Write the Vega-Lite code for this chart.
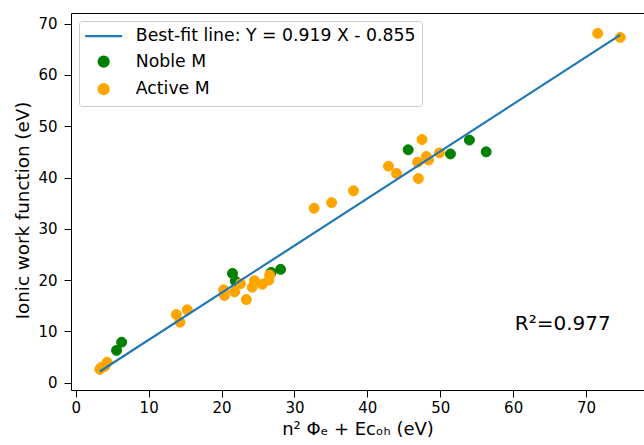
{
  "$schema": "https://vega.github.io/schema/vega-lite/v6.json",
  "width": 573,
  "height": 377,
  "autosize": {"type": "none"},
  "padding": {"left": 71, "top": 13, "right": 0, "bottom": 55},
  "background": "white",
  "config": {
    "view": {"stroke": null},
    "font": "DejaVu Sans",
    "axis": {
      "labelFont": "DejaVu Sans", "labelFontSize": 15, "labelColor": "black",
      "titleFont": "DejaVu Sans", "titleFontSize": 18, "titleFontWeight": "normal", "titleColor": "black",
      "domainColor": "black", "domainWidth": 1, "tickColor": "black", "tickSize": 7, "tickWidth": 1, "grid": false
    },
    "legend": {
      "title": null, "orient": "top-left", "offset": 8, "labelLimit": 500,
      "labelFont": "DejaVu Sans", "labelFontSize": 17.3, "labelColor": "black",
      "symbolSize": 100, "symbolOffset": 9.5, "labelOffset": 23.5, "rowPadding": 7.5,
      "padding": 6.5, "fillColor": "rgba(255,255,255,0.8)", "strokeColor": "#cccccc", "cornerRadius": 3,
      "symbolStrokeWidth": 2.2
    }
  },
  "datasets": {
    "pts": [
      {"x": 5.6, "y": 6.3, "series": "Noble M"},
      {"x": 6.3, "y": 7.9, "series": "Noble M"},
      {"x": 21.5, "y": 21.3, "series": "Noble M"},
      {"x": 21.9, "y": 19.8, "series": "Noble M"},
      {"x": 26.8, "y": 21.5, "series": "Noble M"},
      {"x": 28.1, "y": 22.1, "series": "Noble M"},
      {"x": 45.6, "y": 45.4, "series": "Noble M"},
      {"x": 51.4, "y": 44.6, "series": "Noble M"},
      {"x": 54.0, "y": 47.3, "series": "Noble M"},
      {"x": 56.3, "y": 45.0, "series": "Noble M"},
      {"x": 3.3, "y": 2.6, "series": "Active M"},
      {"x": 3.5, "y": 3.0, "series": "Active M"},
      {"x": 4.0, "y": 3.2, "series": "Active M"},
      {"x": 4.3, "y": 4.0, "series": "Active M"},
      {"x": 13.8, "y": 13.3, "series": "Active M"},
      {"x": 14.3, "y": 11.8, "series": "Active M"},
      {"x": 15.3, "y": 14.2, "series": "Active M"},
      {"x": 20.3, "y": 18.1, "series": "Active M"},
      {"x": 20.4, "y": 17.0, "series": "Active M"},
      {"x": 21.8, "y": 17.7, "series": "Active M"},
      {"x": 22.6, "y": 19.3, "series": "Active M"},
      {"x": 23.4, "y": 16.2, "series": "Active M"},
      {"x": 24.2, "y": 18.6, "series": "Active M"},
      {"x": 24.5, "y": 19.9, "series": "Active M"},
      {"x": 25.6, "y": 19.2, "series": "Active M"},
      {"x": 26.5, "y": 20.0, "series": "Active M"},
      {"x": 26.6, "y": 21.0, "series": "Active M"},
      {"x": 32.7, "y": 34.0, "series": "Active M"},
      {"x": 35.1, "y": 35.1, "series": "Active M"},
      {"x": 38.1, "y": 37.4, "series": "Active M"},
      {"x": 42.9, "y": 42.2, "series": "Active M"},
      {"x": 44.0, "y": 40.8, "series": "Active M"},
      {"x": 46.9, "y": 43.0, "series": "Active M"},
      {"x": 47.0, "y": 39.8, "series": "Active M"},
      {"x": 47.5, "y": 47.4, "series": "Active M"},
      {"x": 48.1, "y": 44.1, "series": "Active M"},
      {"x": 48.4, "y": 43.4, "series": "Active M"},
      {"x": 49.9, "y": 44.8, "series": "Active M"},
      {"x": 71.6, "y": 68.1, "series": "Active M"},
      {"x": 74.7, "y": 67.3, "series": "Active M"}
    ],
    "fit": [
      {"x": 3.3, "y": 2.18},
      {"x": 74.7, "y": 67.80}
    ],
    "note": [
      {"x": 66.8, "y": 11.4, "label": "R²=0.977"}
    ]
  },
  "resolve": {"axis": {"x": "independent"}},
  "layer": [
    {
      "data": {"name": "pts"},
      "mark": {"type": "point", "opacity": 1, "fillOpacity": 1, "strokeOpacity": 1, "size": 100, "strokeWidth": 1},
      "encoding": {
        "x": {"field": "x", "type": "quantitative",
              "scale": {"domain": [-0.65, 77.95], "nice": false, "zero": false},
              "axis": {"orient": "bottom", "values": [0, 10, 20, 30, 40, 50, 60, 70], "labelPadding": 3, "titlePadding": 5,
                       "title": "n² Φₑ + Eᴄₒₕ (eV)"}},
        "y": {"field": "y", "type": "quantitative",
              "scale": {"domain": [-1.42, 72.07], "nice": false, "zero": false},
              "axis": {"values": [0, 10, 20, 30, 40, 50, 60, 70], "labelPadding": 7, "titlePadding": 5, "titleY": 197,
                       "titleFontSize": 18.3, "title": "Ionic work function (eV)"}},
        "fill": {"field": "series", "type": "nominal",
                 "scale": {"domain": ["Best-fit line: Y = 0.919 X - 0.855", "Noble M", "Active M"],
                           "range": ["#1f77b4", "#008000", "#ffa500"]},
                 "legend": {"title": null}},
        "stroke": {"field": "series", "type": "nominal",
                   "scale": {"domain": ["Best-fit line: Y = 0.919 X - 0.855", "Noble M", "Active M"],
                             "range": ["#1f77b4", "#008000", "#ffa500"]},
                   "legend": {"title": null}},
        "shape": {"field": "series", "type": "nominal",
                  "scale": {"domain": ["Best-fit line: Y = 0.919 X - 0.855", "Noble M", "Active M"],
                            "range": ["M-3.7,0H3.7", "circle", "circle"]},
                  "legend": {"title": null}}
      }
    },
    {
      "data": {"name": "fit"},
      "mark": {"type": "line", "color": "#1f77b4", "strokeWidth": 2.2},
      "encoding": {
        "x": {"field": "x", "type": "quantitative", "axis": null},
        "y": {"field": "y", "type": "quantitative"}
      }
    },
    {
      "data": {"name": "note"},
      "mark": {"type": "text", "fontSize": 20, "font": "DejaVu Sans", "color": "black", "align": "center", "baseline": "middle"},
      "encoding": {
        "x": {"field": "x", "type": "quantitative", "axis": null},
        "y": {"field": "y", "type": "quantitative"},
        "text": {"field": "label"}
      }
    },
    {
      "data": {"name": "fit"},
      "mark": {"type": "point", "opacity": 0},
      "encoding": {
        "x": {"field": "x", "type": "quantitative",
              "axis": {"orient": "top", "labels": false, "ticks": false, "title": null, "domain": true}},
        "y": {"field": "y", "type": "quantitative"}
      }
    }
  ]
}
